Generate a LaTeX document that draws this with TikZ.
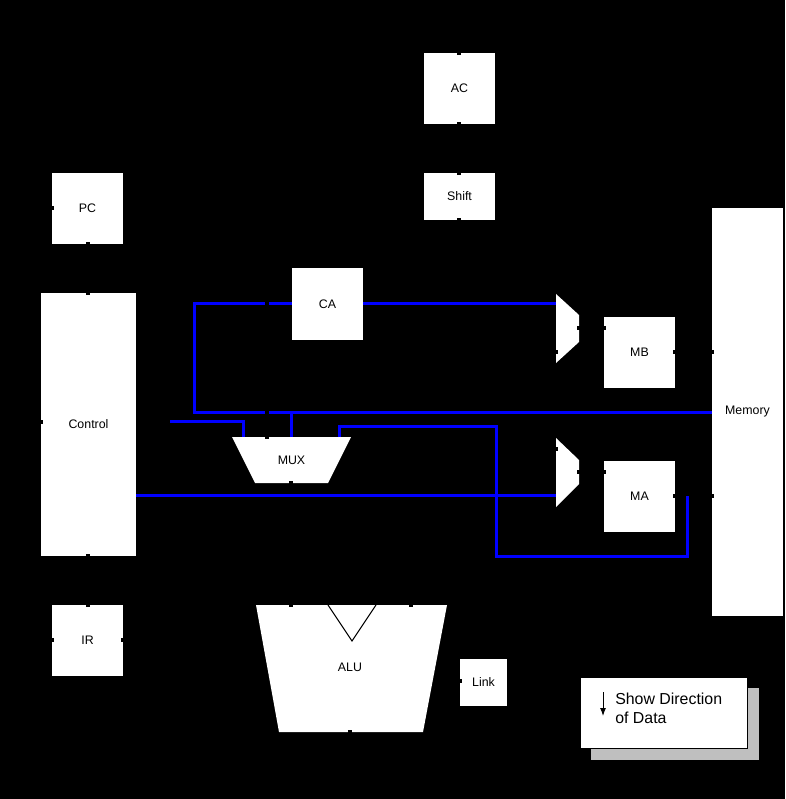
\documentclass[tikz,border=0pt]{standalone}
\usepackage{fontspec}
\setmainfont{Liberation Sans}
\usetikzlibrary{
    arrows.meta,
    calc,
    positioning
}
\newcommand{\upx}{0.025cm}
\tikzset{
    reg/.style={fill=white, inner sep=0pt, minimum width=71*\upx, minimum height=71*\upx, font=\fontsize{8.8}{10}\selectfont},
    lbl/.style={inner sep=0pt, font=\fontsize{8.8}{10}\selectfont},
    unit/.style={fill=white},
    bus/.style={draw=blue, line width=3*\upx},
    tick/.style={fill=black}
}

\begin{document}
\begin{tikzpicture}[x=\upx, y=-\upx]
    \fill[black] (0,0) rectangle (785,799);
    % registers
    \node[reg] (ac) at (459.5,88.5) {AC};
    \node[reg, minimum height=47*\upx] (shift) at (459.5,196.5) {Shift};
    \node[reg] (pc) at (87.5,208.5) {PC};
    \node[reg, minimum width=95*\upx, minimum height=263*\upx] (ctrl) at (88.5,424.5) {Control};
    \node[reg] (ca) at (327.5,304) {CA};
    \node[reg] (mb) at (639.5,352.5) {MB};
    \node[reg] (ma) at (639.5,496.5) {MA};
    \node[reg, minimum height=407*\upx] (mem) at (747.5,412) {Memory};
    \node[reg] (ir) at (87.5,640.5) {IR};
    \node[reg, minimum size=47*\upx] (link) at (483.5,682.5) {Link};
    % MUX, ALU and bus switches
    \fill[unit] (232,437) -- (351,437) -- (328,483) -- (255,483) -- cycle;
    \node[lbl] (mux) at (291.5,460) {MUX};
    \fill[unit] (256,605) -- (447,605) -- (423,732) -- (279,732) -- cycle;
    \draw[line width=\upx] (328,605) -- (352,641) -- (376,605);
    \node[lbl] (alu) at (350,667) {ALU};
    \fill[unit] (556,294) -- (579,315) -- (579,342) -- (556,363) -- cycle;
    \fill[unit] (556,438) -- (579,460) -- (579,484) -- (556,507) -- cycle;
    \coordinate (muxa) at (243,437);
    \coordinate (muxb) at (291,437);
    \coordinate (muxc) at (339,437);
    \coordinate (bmin) at (556,304);
    \coordinate (amin) at (556,495);
    \coordinate (j1) at (291,412);
    \coordinate (cin) at (170,421);
    \coordinate (mar) at (687,496);
    % buses
    \draw[bus] (mem.west) -| (194,304) -- (ca.west);
    \draw[bus] (j1) -- (muxb);
    \draw[bus] (cin) -| (muxa);
    \draw[bus] (muxc) |- (496,426) |- (687,556) -- (mar);
    \draw[bus] (ca.east) -- (bmin);
    \draw[bus] (ctrl.east |- amin) -- (amin);
    % connection points
    \foreach \tx/\ty in {459/53, 459/124, 459/173, 459/220, 52/208, 88/244, 88/293, 41/422, 88/556,
        88/605, 52/640, 123/640, 267/304, 267/412, 267/437, 291/483, 556/352, 579/328, 604/328,
        675/352, 712/352, 556/449, 579/472, 604/472, 675/496, 712/496, 291/605, 411/605, 350/732, 460/681}
        \fill[tick] (\tx-1.75,\ty-1.75) rectangle ++(3.5,3.5);
    % key
    \fill[black!25] (591,688) rectangle (759,760);
    \node[draw=black, fill=white, line width=\upx, inner sep=0pt, minimum width=167*\upx, minimum height=71*\upx] (key) at (663.5,712.5) {};
    \node[anchor=north west, align=left, inner sep=0pt, font=\fontsize{11.3}{13.5}\selectfont] (keytext) at (615,692.4) {Show Direction\\of Data};
    \draw[-{Latex[length=2mm, width=1.5mm]}, line width=\upx] (603,692) -- (603,716);
\end{tikzpicture}
\end{document}
